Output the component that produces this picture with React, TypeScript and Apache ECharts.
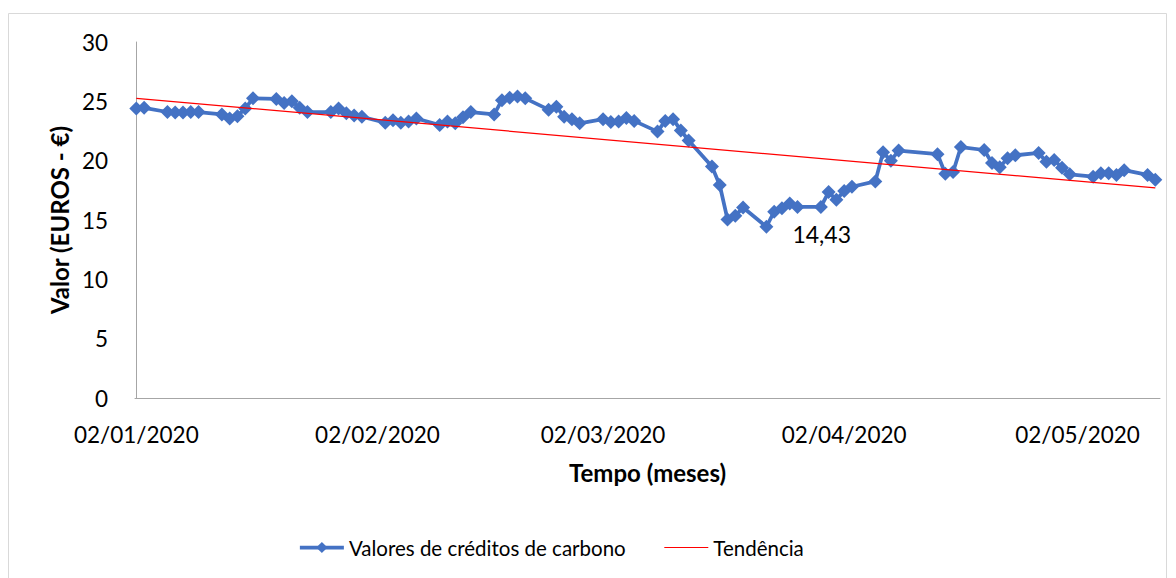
import React, { useEffect, useRef } from "react";
import * as echarts from "echarts";

const dates = [
  "2020-01-02", "2020-01-03", "2020-01-06", "2020-01-07", "2020-01-08", "2020-01-09", "2020-01-10",
  "2020-01-13", "2020-01-14", "2020-01-15", "2020-01-16", "2020-01-17",
  "2020-01-20", "2020-01-21", "2020-01-22", "2020-01-23", "2020-01-24",
  "2020-01-27", "2020-01-28", "2020-01-29", "2020-01-30", "2020-01-31",
  "2020-02-03", "2020-02-04", "2020-02-05", "2020-02-06", "2020-02-07",
  "2020-02-10", "2020-02-11", "2020-02-12", "2020-02-13", "2020-02-14",
  "2020-02-17", "2020-02-18", "2020-02-19", "2020-02-20", "2020-02-21",
  "2020-02-24", "2020-02-25", "2020-02-26", "2020-02-27", "2020-02-28",
  "2020-03-02", "2020-03-03", "2020-03-04", "2020-03-05", "2020-03-06",
  "2020-03-09", "2020-03-10", "2020-03-11", "2020-03-12", "2020-03-13",
  "2020-03-16", "2020-03-17", "2020-03-18", "2020-03-19", "2020-03-20",
  "2020-03-23", "2020-03-24", "2020-03-25", "2020-03-26", "2020-03-27",
  "2020-03-30", "2020-03-31", "2020-04-01", "2020-04-02", "2020-04-03",
  "2020-04-06", "2020-04-07", "2020-04-08", "2020-04-09",
  "2020-04-14", "2020-04-15", "2020-04-16", "2020-04-17",
  "2020-04-20", "2020-04-21", "2020-04-22", "2020-04-23", "2020-04-24",
  "2020-04-27", "2020-04-28", "2020-04-29", "2020-04-30", "2020-05-01",
  "2020-05-04", "2020-05-05", "2020-05-06", "2020-05-07", "2020-05-08",
  "2020-05-11", "2020-05-12",
];

const carbonValues = [
  24.4, 24.45, 24.1, 24.05, 24.05, 24.1, 24.1,
  23.9, 23.55, 23.75, 24.4, 25.25,
  25.2, 24.85, 25.0, 24.45, 24.1,
  24.1, 24.4, 24.0, 23.8, 23.7,
  23.2, 23.4, 23.2, 23.3, 23.55,
  23.0, 23.3, 23.15, 23.65, 24.1,
  23.9, 25.1, 25.3, 25.4, 25.25,
  24.3, 24.55, 23.7, 23.5, 23.15,
  23.5, 23.25, 23.3, 23.6, 23.35,
  22.45, 23.35, 23.5, 22.55, 21.7,
  19.5, 17.95, 15.05, 15.35, 16.05,
  14.43, 15.7, 16.0, 16.4, 16.1,
  16.1, 17.35, 16.7, 17.45, 17.8,
  18.25, 20.7, 20.0, 20.85,
  20.55, 18.9, 19.05, 21.15,
  20.9, 19.8, 19.45, 20.2, 20.45,
  20.65, 19.9, 20.05, 19.4, 18.85,
  18.65, 18.95, 18.95, 18.8, 19.2,
  18.8, 18.4,
];

const trendDates = ["2020-01-02", "2020-05-12"];
const trendValues = [25.25, 17.7];

const labelDate = "2020-03-23";
const tickDates = ["2020-01-02", "2020-02-02", "2020-03-02", "2020-04-02", "2020-05-02"];

const seriesNames = ["Valores de créditos de carbono", "Tendência"];
const yTitle = "Valor (EUROS - €)";
const xTitle = "Tempo (meses)";

const FONT = "Lato, 'Open Sans', sans-serif";

const DAY = 86400000;
const BASE = Date.UTC(2020, 0, 2);
// day offset from 02/01/2020
const dayOf = (d: string) => {
  const [y, m, dd] = d.split("-").map(Number);
  return Math.round((Date.UTC(y, m - 1, dd) - BASE) / DAY);
};
const fmtDay = (n: number) => {
  const dt = new Date(BASE + Math.round(n) * DAY);
  const p = (x: number) => String(x).padStart(2, "0");
  return `${p(dt.getUTCDate())}/${p(dt.getUTCMonth() + 1)}/${dt.getUTCFullYear()}`;
};

export default function App() {
  const ref = useRef<HTMLDivElement>(null);

  useEffect(() => {
    if (!ref.current) return;
    const chart = echarts.init(ref.current, undefined, { renderer: "svg" });

    const carbonData = dates.map((d, i) => {
      const item: any = { value: [dayOf(d), carbonValues[i]] };
      if (d === labelDate) {
        item.label = {
          show: true,
          position: "right",
          distance: 19,
          offset: [0, 7],
          formatter: String(carbonValues[i]).replace(".", ","),
          fontSize: 23,
          color: "#000",
          fontFamily: FONT,
        };
      }
      return item;
    });

    const trendData = trendDates.map((d, i) => [dayOf(d), trendValues[i]]);
    const tickDays = tickDates.map(dayOf);

    chart.setOption({
      animation: false,
      backgroundColor: "#fff",
      graphic: [
        {
          type: "rect",
          shape: { x: 8.5, y: 13.5, width: 1158, height: 600 },
          style: { fill: "none", stroke: "#d9d9d9", lineWidth: 1 },
          silent: true,
        },
      ],
      grid: { left: 135, right: 16, top: 42, bottom: 180 },
      xAxis: {
        type: "value",
        min: -0.17,
        max: dayOf("2020-05-12") + 0.6,
        axisLine: { show: true, lineStyle: { color: "#a6a6a6", width: 1 } },
        axisTick: { show: false },
        splitLine: { show: false },
        axisLabel: {
          customValues: tickDays,
          formatter: (v: number) => fmtDay(v),
          fontSize: 22.5,
          color: "#000",
          fontFamily: FONT,
          margin: 25,
        },
        name: xTitle,
        nameLocation: "middle",
        nameGap: 62,
        nameTextStyle: { fontSize: 24, fontWeight: "bold", color: "#000", fontFamily: FONT },
      },
      yAxis: {
        type: "value",
        min: 0,
        max: 30,
        interval: 5,
        axisLine: { show: true, lineStyle: { color: "#a6a6a6", width: 1 } },
        axisTick: { show: false },
        splitLine: { show: false },
        axisLabel: { fontSize: 22.5, color: "#000", fontFamily: FONT, margin: 27 },
        name: yTitle,
        nameLocation: "middle",
        nameRotate: 90,
        nameGap: 61,
        nameTextStyle: { fontSize: 24, fontWeight: "bold", color: "#000", fontFamily: FONT },
      },
      legend: {
        left: 293,
        top: 532,
        itemWidth: 44,
        itemHeight: 14,
        itemGap: 38,
        textStyle: { fontSize: 20.5, color: "#000", fontFamily: FONT },
        data: [
          { name: seriesNames[0], lineStyle: { width: 3.75 } },
          { name: seriesNames[1], itemStyle: { opacity: 0 }, lineStyle: { width: 1.2 } },
        ],
      },
      series: [
        {
          name: seriesNames[0],
          type: "line",
          data: carbonData,
          symbol: "diamond",
          symbolSize: 14,
          showAllSymbol: true,
          lineStyle: { color: "#4472C4", width: 3.75 },
          itemStyle: { color: "#4472C4" },
          z: 2,
        },
        {
          name: seriesNames[1],
          type: "line",
          data: trendData,
          symbol: "none",
          lineStyle: { color: "#FF0000", width: 1.2 },
          itemStyle: { color: "#FF0000" },
          z: 3,
        },
      ],
    });

    return () => chart.dispose();
  }, []);

  return (
    <div
      ref={ref}
      style={{ position: "fixed", left: 0, top: 0, width: 1176, height: 578 }}
    />
  );
}
